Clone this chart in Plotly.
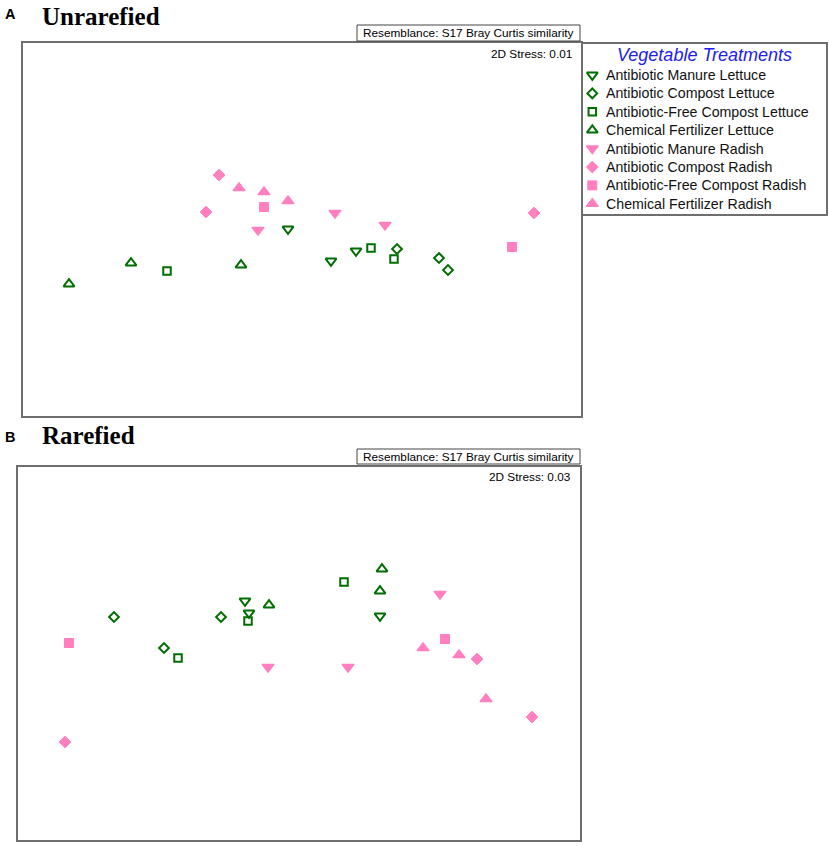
import plotly.graph_objects as go

W, H = 829, 846

categories = [
    "Antibiotic Manure Lettuce",
    "Antibiotic Compost Lettuce",
    "Antibiotic-Free Compost Lettuce",
    "Chemical Fertilizer Lettuce",
    "Antibiotic Manure Radish",
    "Antibiotic Compost Radish",
    "Antibiotic-Free Compost Radish",
    "Chemical Fertilizer Radish",
]

# NMDS ordination coordinates (arbitrary units; y grows downward)
unrarefied_x = [
    [288, 331, 356],
    [397, 439, 448],
    [371, 394, 167],
    [69, 131, 241],
    [258, 335, 385],
    [219, 206, 534],
    [264, 512],
    [239, 264, 288],
]
unrarefied_y = [
    [229, 261, 251],
    [249, 258, 270],
    [248, 259, 271],
    [284, 263, 265],
    [230, 213, 225],
    [175, 212, 213],
    [207, 247],
    [188, 192, 201],
]
rarefied_x = [
    [245, 249, 380],
    [114, 164, 221],
    [178, 248, 344],
    [269, 382, 380],
    [268, 348, 440],
    [65, 477, 532],
    [69, 445],
    [423, 459, 486],
]
rarefied_y = [
    [601, 613, 616],
    [617, 648, 617],
    [658, 621, 582],
    [605, 569, 591],
    [667, 667, 594],
    [742, 659, 717],
    [643, 639],
    [648, 655, 699],
]
stress_labels = ["2D Stress: 0.01", "2D Stress: 0.03"]
panel_letters = ["A", "B"]
panel_titles = ["Unrarefied", "Rarefied"]
resemblance_label = "Resemblance: S17 Bray Curtis similarity"
legend_title = "Vegetable Treatments"

# styles
GREEN = "#006e00"
PINK = "#ff7fc0"
symbols = ["triangle-down-open", "diamond-open", "square-open", "triangle-up-open",
           "triangle-down", "diamond", "square", "triangle-up"]
sizes = [9.5, 7.5, 7.5, 9.5, 10.5, 9, 9, 10.5]
colors = [GREEN] * 4 + [PINK] * 4
linew = [2, 2, 2, 2, 1.2, 1, 1, 1.2]

FONT = "Liberation Sans"
SERIF = "Liberation Serif"
BOXC = "#6e6e6e"

# panel boxes in pixels (left, right, top, bottom)
boxA = (22.7, 580.5, 43, 415.7)
boxB = (17.5, 580, 467, 840)
boxL = (583, 826, 44, 214)


def xdom(b):
    return [b[0] / W, b[1] / W]


def ydom(b):
    return [1 - b[3] / H, 1 - b[2] / H]


fig = go.Figure()

for i, cat in enumerate(categories):
    mk = dict(symbol=symbols[i], size=sizes[i], color=colors[i],
              line=dict(width=linew[i], color=colors[i]))
    fig.add_trace(go.Scatter(x=unrarefied_x[i], y=unrarefied_y[i], mode="markers",
                             marker=mk, name=cat, xaxis="x", yaxis="y", showlegend=False))
    fig.add_trace(go.Scatter(x=rarefied_x[i], y=rarefied_y[i], mode="markers",
                             marker=mk, name=cat, xaxis="x2", yaxis="y2", showlegend=False))

# custom legend: one marker per category on its own axis
LEG_X0, LEG_Y0, LEG_DY, TXT_X = 9.3, 31, 18.4, 21.3
for i, cat in enumerate(categories):
    mk = dict(symbol=symbols[i], size=sizes[i], color=colors[i],
              line=dict(width=linew[i], color=colors[i]))
    fig.add_trace(go.Scatter(x=[LEG_X0], y=[LEG_Y0 + i * LEG_DY], mode="markers",
                             marker=mk, xaxis="x3", yaxis="y3", showlegend=False,
                             hoverinfo="skip"))

ann = []
for i, cat in enumerate(categories):
    ann.append(dict(x=TXT_X, y=LEG_Y0 + i * LEG_DY, xref="x3", yref="y3", text=cat,
                    showarrow=False, xanchor="left", yanchor="middle",
                    font=dict(family=FONT, size=14.2, color="#111")))
ann.append(dict(x=121.7, y=11, xref="x3", yref="y3", text="<i>" + legend_title + "</i>",
                showarrow=False, xanchor="center", yanchor="middle",
                font=dict(family=FONT, size=18, color="#2020ee")))

shapes = []
res_boxes = [(357, 580, 25, 41), (357, 580, 449, 464)]
stress_pos = [(573.5, 54), (573, 477)]
letter_pos = [(2.5, 14), (2.5, 437)]
title_pos = [(41, 16.5), (41, 435)]
for k in range(2):
    rb = res_boxes[k]
    shapes.append(dict(type="rect", xref="paper", yref="paper",
                       x0=rb[0] / W, x1=rb[1] / W, y0=1 - rb[3] / H, y1=1 - rb[2] / H,
                       line=dict(color="#444", width=1), fillcolor="white"))
    ann.append(dict(x=(rb[0] + rb[1]) / 2 / W, y=1 - (rb[2] + rb[3]) / 2 / H,
                    xref="paper", yref="paper", text=resemblance_label, showarrow=False,
                    xanchor="center", yanchor="middle",
                    font=dict(family=FONT, size=11.8, color="#000")))
    sp = stress_pos[k]
    ann.append(dict(x=sp[0] / W, y=1 - sp[1] / H, xref="paper", yref="paper",
                    text=stress_labels[k], showarrow=False, xanchor="right", yanchor="middle",
                    font=dict(family=FONT, size=11.8, color="#000")))
    lp = letter_pos[k]
    ann.append(dict(x=lp[0] / W, y=1 - lp[1] / H, xref="paper", yref="paper",
                    text="<b>" + panel_letters[k] + "</b>", showarrow=False,
                    xanchor="left", yanchor="middle",
                    font=dict(family=FONT, size=14.5, color="#000")))
    tp = title_pos[k]
    ann.append(dict(x=tp[0] / W, y=1 - tp[1] / H, xref="paper", yref="paper",
                    text="<b>" + panel_titles[k] + "</b>", showarrow=False,
                    xanchor="left", yanchor="middle", borderpad=0,
                    font=dict(family=SERIF, size=25, color="#000")))


def ax(dom, rng, anchor):
    return dict(domain=dom, range=rng, anchor=anchor, showgrid=False, zeroline=False,
                showticklabels=False, ticks="", showline=True, mirror=True,
                linecolor=BOXC, linewidth=1.5, fixedrange=True)


fig.update_layout(
    width=W, height=H, margin=dict(l=0, r=0, t=0, b=0),
    paper_bgcolor="white", plot_bgcolor="white",
    xaxis=ax(xdom(boxA), [boxA[0], boxA[1]], "y"),
    yaxis=ax(ydom(boxA), [boxA[3], boxA[2]], "x"),
    xaxis2=ax(xdom(boxB), [boxB[0], boxB[1]], "y2"),
    yaxis2=ax(ydom(boxB), [boxB[3], boxB[2]], "x2"),
    xaxis3=ax(xdom(boxL), [0, boxL[1] - boxL[0]], "y3"),
    yaxis3=ax(ydom(boxL), [boxL[3] - boxL[2], 0], "x3"),
    annotations=ann, shapes=shapes, showlegend=False,
)

fig.write_html("out.html", config={"displayModeBar": False},
               post_script="document.body.style.margin='0';document.body.style.overflow='hidden';")
